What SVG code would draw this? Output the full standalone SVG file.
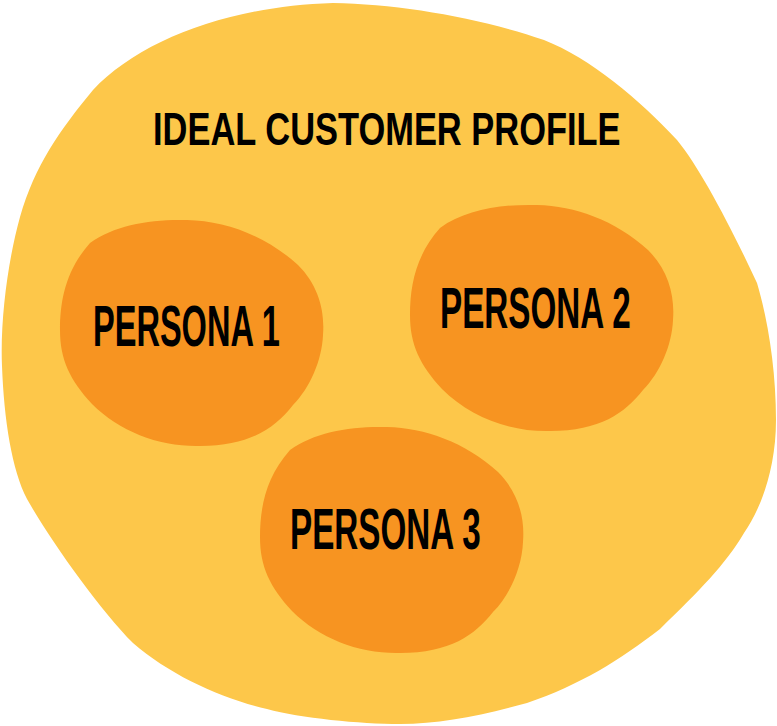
<svg xmlns="http://www.w3.org/2000/svg" width="777" height="726" viewBox="0 0 777 726">
<style>
.outer{fill:#FDC74A}
.blob{fill:#F79421}
.t{font-family:"Liberation Sans",Arial,sans-serif;font-weight:bold;fill:#000}
</style>
<defs>
<path id="pblob" d="M187,220 C225,221 265,235 298,265 C318,285 325,310 323,335 C322,360 310,388 293,405 C275,428 250,446 200,446 C160,447 120,432 92,404 C70,380 60,360 60,330 C60,300 66,270 90,243 C115,225 150,219 187,220 Z"/>
</defs>
<g id="icp">
<path class="outer" d="M333,3 C400,4 480,18 544,40 C590,58 640,100 677,140 C700,168 730,225 757,283 C768,320 776,370 776,420 C776,470 760,510 744,533 C725,565 700,590 660,629 C620,660 580,685 527,703 C480,716 440,724 400,724 C360,724 300,718 267,709 C220,698 170,675 133,643 C100,610 50,540 27,499 C12,470 4,420 2,366 C0,320 8,260 20,217 C35,165 60,130 93,90 C140,40 230,6 333,3 Z"/>
<text class="t" font-size="46" transform="translate(153,145) scale(0.749,1)">IDEAL CUSTOMER PROFILE</text>
</g>
<g id="persona1">
<use href="#pblob" class="blob"/>
<text class="t" font-size="58" transform="translate(93,346) scale(0.561,1)">PERSONA 1</text>
</g>
<g id="persona2">
<use href="#pblob" class="blob" transform="translate(350,-15)"/>
<text class="t" font-size="58" transform="translate(440,328) scale(0.573,1)">PERSONA 2</text>
</g>
<g id="persona3">
<use href="#pblob" class="blob" transform="translate(200,207)"/>
<text class="t" font-size="58" transform="translate(290,549) scale(0.573,1)">PERSONA 3</text>
</g>
<g id="connectors"/>
</svg>
